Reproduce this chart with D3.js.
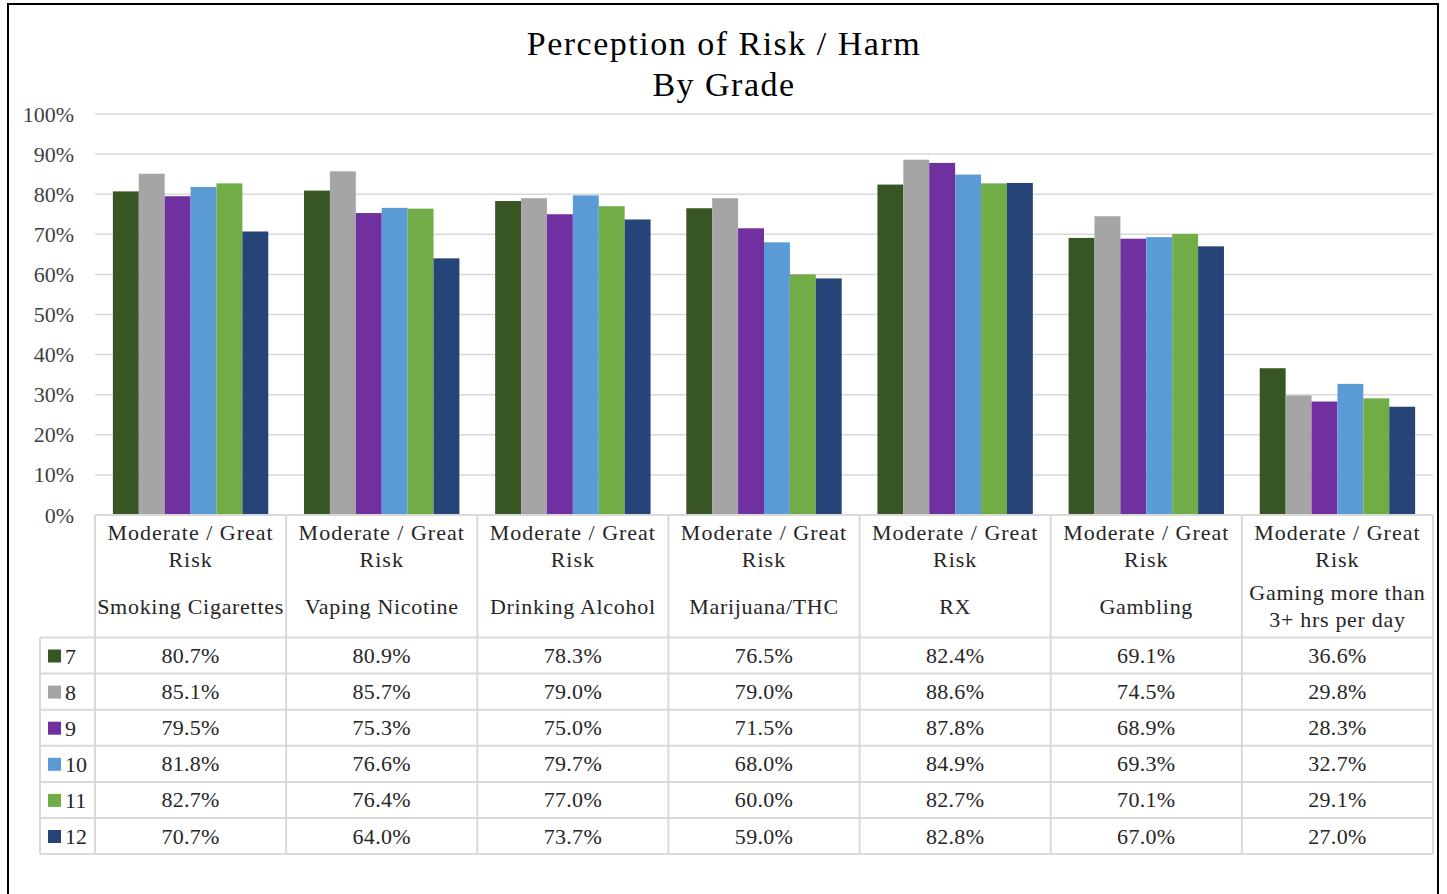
<!DOCTYPE html>
<html>
<head>
<meta charset="utf-8">
<script src="https://cdn.jsdelivr.net/npm/d3@7"></script>
<style>
  html, body { margin: 0; padding: 0; background: #fff; }
</style>
</head>
<body>
<svg id="chart" width="1447" height="894"></svg>
<script>
// Categories (risk behaviours) and the header lines shown for each
const categories = ["Smoking Cigarettes", "Vaping Nicotine", "Drinking Alcohol", "Marijuana/THC", "RX", "Gambling", "Gaming more than 3+ hrs per day"];
const categoryLines = [
  ["Smoking Cigarettes"],
  ["Vaping Nicotine"],
  ["Drinking Alcohol"],
  ["Marijuana/THC"],
  ["RX"],
  ["Gambling"],
  ["Gaming more than", "3+ hrs per day"]
];
const riskLabel = ["Moderate / Great", "Risk"];

// Grades (series)
const grades = ["7", "8", "9", "10", "11", "12"];
const gradeColors = ["#375623", "#a5a5a5", "#7030a0", "#5b9bd5", "#70ad47", "#264478"];

// Share perceiving moderate / great risk, per grade, per category
const grade7  = [0.807, 0.809, 0.783, 0.765, 0.824, 0.691, 0.366];
const grade8  = [0.851, 0.857, 0.790, 0.790, 0.886, 0.745, 0.298];
const grade9  = [0.795, 0.753, 0.750, 0.715, 0.878, 0.689, 0.283];
const grade10 = [0.818, 0.766, 0.797, 0.680, 0.849, 0.693, 0.327];
const grade11 = [0.827, 0.764, 0.770, 0.600, 0.827, 0.701, 0.291];
const grade12 = [0.707, 0.640, 0.737, 0.590, 0.828, 0.670, 0.270];
const seriesValues = [grade7, grade8, grade9, grade10, grade11, grade12];

const yTicks = [0, 0.1, 0.2, 0.3, 0.4, 0.5, 0.6, 0.7, 0.8, 0.9, 1.0];
const titleLines = ["Perception of Risk / Harm", "By Grade"];

const FONT = "'Liberation Serif', 'Times New Roman', serif";
const svg = d3.select("#chart");
const textColor = "#262626";
const lineColor = "#d9d9d9";

// Helper: serif text with inline font styling
function label(sel, size, spacing) {
  return sel.style("font-family", FONT)
    .style("font-size", size + "px")
    .style("letter-spacing", (spacing || 0) + "px");
}

// Outer frame
svg.append("rect")
  .attr("x", 8).attr("y", 4)
  .attr("width", 1430).attr("height", 900)
  .attr("fill", "none").attr("stroke", "#000").attr("stroke-width", 2);

// Title
label(svg.append("g").selectAll("text")
  .data(titleLines)
  .join("text")
  .attr("x", 724)
  .attr("y", (d, i) => 55 + i * 41)
  .attr("text-anchor", "middle")
  .attr("fill", "#000")
  .text(d => d), 34, 1.5);

// Scales
const plotLeft = 95, plotRight = 1433, plotTop = 114, plotBottom = 515;
const x0 = d3.scaleBand().domain(categories).range([plotLeft, plotRight]).paddingInner(0).paddingOuter(0);
const x1 = d3.scaleBand().domain(grades).range([0, x0.bandwidth()]).paddingInner(0).paddingOuter(0.69);
const y = d3.scaleLinear().domain([0, 1]).range([plotBottom, plotTop]);

// Gridlines
svg.append("g").selectAll("line")
  .data(yTicks.filter(t => t > 0))
  .join("line")
  .attr("x1", plotLeft).attr("x2", plotRight)
  .attr("y1", d => y(d)).attr("y2", d => y(d))
  .attr("stroke", lineColor).attr("stroke-width", 1.5);

// Y axis labels
const yAxis = d3.axisLeft(y).tickValues(yTicks).tickFormat(d3.format(".0%")).tickSize(0).tickPadding(0);
const yg = svg.append("g").attr("transform", "translate(74,0)").call(yAxis);
yg.attr("font-family", null).attr("font-size", null);
yg.select(".domain").remove();
label(yg.selectAll("text"), 22, 0).attr("fill", "#404040");

// Bars
const groups = svg.append("g").selectAll("g")
  .data(categories)
  .join("g")
  .attr("transform", d => `translate(${x0(d)},0)`);

groups.selectAll("rect")
  .data((c, ci) => grades.map((g, gi) => ({ grade: g, gi, value: seriesValues[gi][ci] })))
  .join("rect")
  .attr("x", d => x1(d.grade))
  .attr("width", x1.bandwidth())
  .attr("y", d => y(d.value))
  .attr("height", d => y(0) - y(d.value))
  .attr("fill", d => gradeColors[d.gi]);

// Data table
const table = svg.append("g");
const headerTop = plotBottom, headerBottom = 637.5, rowH = 36.1;
const legendLeft = 40;
const tableBottom = headerBottom + rowH * grades.length;
const fmt = d3.format(".1%");

// Header text
categories.forEach((c, ci) => {
  const cx = x0(c) + x0.bandwidth() / 2;
  riskLabel.forEach((t, li) => {
    label(table.append("text")
      .attr("x", cx).attr("y", 540 + li * 27)
      .attr("text-anchor", "middle")
      .attr("fill", textColor).text(t), 22, 1.0);
  });
  const lines = categoryLines[ci];
  const base = lines.length === 1 ? 614 : 600;
  lines.forEach((t, li) => {
    label(table.append("text")
      .attr("x", cx).attr("y", base + li * 26.5)
      .attr("text-anchor", "middle")
      .attr("fill", textColor).text(t), 22, 0.7);
  });
});

// Value cells
grades.forEach((g, gi) => {
  const rowTop = headerBottom + gi * rowH;
  // legend key
  table.append("rect")
    .attr("x", 48).attr("y", rowTop + 12)
    .attr("width", 13).attr("height", 13)
    .attr("fill", gradeColors[gi]);
  label(table.append("text")
    .attr("x", 65).attr("y", rowTop + 26)
    .attr("fill", textColor).text(g), 22, 0);
  categories.forEach((c, ci) => {
    label(table.append("text")
      .attr("x", x0(c) + x0.bandwidth() / 2).attr("y", rowTop + 25.5)
      .attr("text-anchor", "middle")
      .attr("fill", textColor).text(fmt(seriesValues[gi][ci])), 22, 0.3);
  });
});

// Table grid lines
const hLines = [];
hLines.push({ x1: plotLeft, x2: plotRight, y: headerTop });
for (let i = 0; i <= grades.length; i++) {
  hLines.push({ x1: legendLeft, x2: plotRight, y: headerBottom + i * rowH });
}
table.append("g").selectAll("line")
  .data(hLines)
  .join("line")
  .attr("x1", d => d.x1).attr("x2", d => d.x2)
  .attr("y1", d => d.y).attr("y2", d => d.y)
  .attr("stroke", lineColor).attr("stroke-width", 2);

const vLines = [];
vLines.push({ x: legendLeft, y1: headerBottom, y2: tableBottom });
categories.forEach(c => vLines.push({ x: x0(c), y1: headerTop, y2: tableBottom }));
vLines.push({ x: plotRight, y1: headerTop, y2: tableBottom });
table.append("g").selectAll("line")
  .data(vLines)
  .join("line")
  .attr("x1", d => d.x).attr("x2", d => d.x)
  .attr("y1", d => d.y1).attr("y2", d => d.y2)
  .attr("stroke", lineColor).attr("stroke-width", 2);
</script>
</body>
</html>
